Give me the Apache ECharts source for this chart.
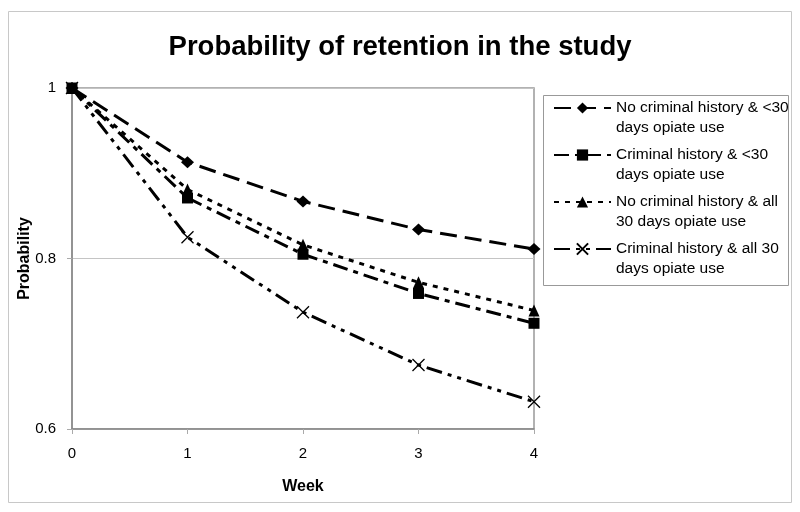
<!DOCTYPE html>
<html>
<head>
<meta charset="utf-8">
<script src="https://cdn.jsdelivr.net/npm/echarts@6/dist/echarts.min.js"></script>
<style>html,body{margin:0;padding:0;background:#fff}#c{width:800px;height:512px}</style>
</head>
<body>
<div id="c"></div>
<script>
var weeks = [0, 1, 2, 3, 4];
var seriesNames = [
  'No criminal history & <30\ndays opiate use',
  'Criminal history & <30\ndays opiate use',
  'No criminal history & all\n30 days opiate use',
  'Criminal history & all 30\ndays opiate use'
];
var noCrimLess30 = [1, 0.913, 0.867, 0.834, 0.811];
var crimLess30   = [1, 0.871, 0.805, 0.759, 0.724];
var noCrimAll30  = [1, 0.881, 0.816, 0.772, 0.739];
var crimAll30    = [1, 0.825, 0.737, 0.675, 0.632];
var yTicks = [0.6, 0.8, 1];

var FONT = 'Liberation Sans, Arial, sans-serif';
function pairs(vals){ return weeks.map(function(w,i){ return [w, vals[i]]; }); }

var styles = [
  {symbol:'diamond', size:[13,12], dash:[17,8], item:{color:'#000'}},
  {symbol:'rect', size:11, dash:[15,6,5,6], item:{color:'#000'}},
  {symbol:'triangle', size:[11,12], dash:[5,6], item:{color:'#000'}},
  {symbol:'path://M0,0L10,10M10,0L0,10', size:12, dash:[16,6,4,6,4,6], item:{color:'none', borderColor:'#000', borderWidth:1.3}}
];
var valueSets = [noCrimLess30, crimLess30, noCrimAll30, crimAll30];

var series = valueSets.map(function(v, i){
  var s = styles[i];
  return {
    type:'line', name: seriesNames[i], data: pairs(v),
    symbol: s.symbol, symbolSize: s.size, showSymbol:true,
    lineStyle:{color:'#000', width:3, type:s.dash},
    itemStyle: s.item,
    emphasis:{disabled:true}, silent:true, z: 2 + i
  };
});

var chart = echarts.init(document.getElementById('c'), null, {renderer:'canvas'});
chart.setOption({
  animation:false,
  backgroundColor:'#fff',
  textStyle:{fontFamily:FONT},
  title:{
    text:'Probability of retention in the study', left:'center', top:28,
    textStyle:{fontFamily:FONT, fontWeight:'bold', fontSize:27.5, color:'#000'}
  },
  grid:{left:72, top:88, right:266, bottom:83, show:true, borderColor:'#999', borderWidth:1.5, backgroundColor:'#fff'},
  xAxis:{
    type:'value', min:0, max:4, interval:1,
    name:'Week', nameLocation:'middle', nameGap:50, nameMoveOverlap:false,
    nameTextStyle:{fontFamily:FONT, fontWeight:'bold', fontSize:16, color:'#000'},
    axisLine:{show:true, lineStyle:{color:'#888', width:1.5}},
    axisTick:{show:true, length:5, lineStyle:{color:'#aaa'}},
    axisLabel:{fontFamily:FONT, fontSize:15, color:'#000', margin:17},
    splitLine:{show:false}
  },
  yAxis:{
    type:'value', min:yTicks[0], max:yTicks[yTicks.length-1], interval:0.2,
    name:'Probability', nameLocation:'middle', nameGap:39, nameMoveOverlap:false,
    nameTextStyle:{fontFamily:FONT, fontWeight:'bold', fontSize:16, color:'#000'},
    axisLine:{show:true, lineStyle:{color:'#888', width:1.5}},
    axisTick:{show:true, length:5, lineStyle:{color:'#aaa'}},
    axisLabel:{fontFamily:FONT, fontSize:15, color:'#000', margin:16,
      formatter:function(v){ return String(Math.round(v*10)/10); }},
    splitLine:{show:true, lineStyle:{color:'#c4c4c4', width:1}}
  },
  legend:{
    orient:'vertical', left:553, top:78, padding:0, itemGap:-13,
    itemWidth:57, itemHeight:14,
    textStyle:{fontFamily:FONT, fontSize:15.5, color:'#000', lineHeight:20},
    formatter:function(name){ return '\n' + name; },
    selectedMode:false,
    data: seriesNames
  },
  graphic:[
    {type:'rect', silent:true, z:0, shape:{x:8.5, y:11.5, width:783, height:491}, style:{fill:'none', stroke:'#c8c8c8', lineWidth:1}},
    {type:'rect', silent:true, z:0, shape:{x:543.5, y:95.5, width:245, height:190}, style:{fill:'none', stroke:'#999', lineWidth:1}}
  ],
  series: series
});
</script>
</body>
</html>
